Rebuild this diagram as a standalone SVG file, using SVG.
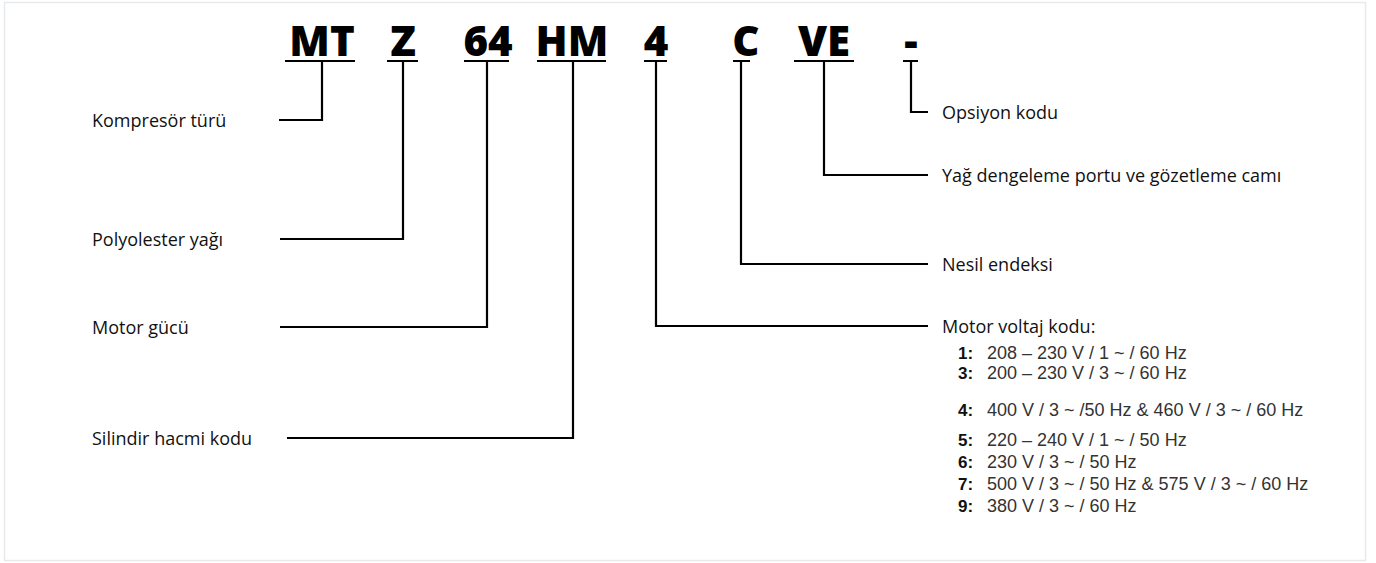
<svg xmlns="http://www.w3.org/2000/svg" width="1376" height="563" viewBox="0 0 1376 563">
<style>
.code{font-family:"Open Sans","Liberation Sans",sans-serif;font-weight:800;font-size:42px;fill:#000;text-anchor:middle}
.lbl{font-family:"Open Sans","Liberation Sans",sans-serif;font-size:18px;fill:#111}
.num{font-family:"Liberation Sans",Arial,sans-serif;font-size:17px;font-weight:700;fill:#111}
.val{font-family:"Liberation Sans",Arial,sans-serif;font-size:18px;fill:#333}
.ln{fill:none;stroke:#000;stroke-width:2.2}
</style>
<rect x="4.5" y="2.5" width="1361" height="558" fill="#fff" stroke="#e6eaec" stroke-width="1.5"/>
<g id="codes">
<text class="code" x="322" y="56">MT</text>
<text class="code" x="403" y="56">Z</text>
<text class="code" x="488" y="56">64</text>
<text class="code" x="572" y="56">HM</text>
<text class="code" x="656" y="56">4</text>
<text class="code" x="746" y="56">C</text>
<text class="code" x="824" y="56">VE</text>
<text class="code" x="911" y="56">-</text>
</g>
<g id="connectors">
<path class="ln" d="M285 61H355M387 61H418M464 61H509M537 61H606M644 61H667M733 61H750M794 61H854M903 61H918"/>
<path class="ln" d="M322 61V120H279"/>
<path class="ln" d="M403 61V239H280"/>
<path class="ln" d="M487 61V327H280"/>
<path class="ln" d="M573 61V438H287"/>
<path class="ln" d="M656 61V326H928"/>
<path class="ln" d="M741 61V264H928"/>
<path class="ln" d="M824 61V175H928"/>
<path class="ln" d="M911 61V112H928"/>
</g>
<g id="label-kompresor"><text class="lbl" x="92" y="127">Kompresör türü</text></g>
<g id="label-polyolester"><text class="lbl" x="92" y="246">Polyolester yağı</text></g>
<g id="label-motor-gucu"><text class="lbl" x="92" y="334">Motor gücü</text></g>
<g id="label-silindir"><text class="lbl" x="92" y="445">Silindir hacmi kodu</text></g>
<g id="label-opsiyon"><text class="lbl" x="942" y="119">Opsiyon kodu</text></g>
<g id="label-yag"><text class="lbl" x="942" y="182">Yağ dengeleme portu ve gözetleme camı</text></g>
<g id="label-nesil"><text class="lbl" x="942" y="271">Nesil endeksi</text></g>
<g id="label-voltaj">
<text class="lbl" x="942" y="333">Motor voltaj kodu:</text>
<text class="num" x="958" y="359">1:</text><text class="val" x="987" y="359">208 – 230 V / 1 ~ / 60 Hz</text>
<text class="num" x="958" y="379">3:</text><text class="val" x="987" y="379">200 – 230 V / 3 ~ / 60 Hz</text>
<text class="num" x="958" y="416">4:</text><text class="val" x="987" y="416">400 V / 3 ~ /50 Hz &amp; 460 V / 3 ~ / 60 Hz</text>
<text class="num" x="958" y="446">5:</text><text class="val" x="987" y="446">220 – 240 V / 1 ~ / 50 Hz</text>
<text class="num" x="958" y="468">6:</text><text class="val" x="987" y="468">230 V / 3 ~ / 50 Hz</text>
<text class="num" x="958" y="490">7:</text><text class="val" x="987" y="490">500 V / 3 ~ / 50 Hz &amp; 575 V / 3 ~ / 60 Hz</text>
<text class="num" x="958" y="512">9:</text><text class="val" x="987" y="512">380 V / 3 ~ / 60 Hz</text>
</g>
</svg>
